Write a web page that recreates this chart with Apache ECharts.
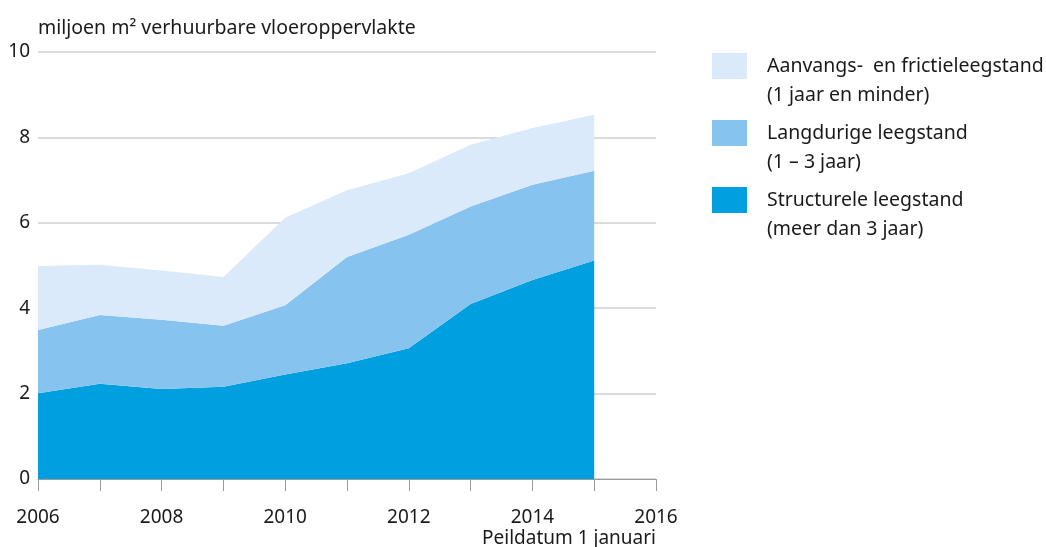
<!DOCTYPE html>
<html>
<head>
<meta charset="utf-8">
<script src="https://cdn.jsdelivr.net/npm/echarts@6/dist/echarts.min.js"></script>
<style>
  html, body { margin: 0; padding: 0; background: #fff; }
  #chart { width: 1046px; height: 547px; }
</style>
</head>
<body>
<div id="chart"></div>
<script>
// peildatum 1 januari (2016 alleen als eind van de as)
var years = ['2006', '2007', '2008', '2009', '2010', '2011', '2012', '2013', '2014', '2015', '2016'];
// miljoen m2, per laag (gestapeld)
var structureel = [2.01, 2.23, 2.11, 2.16, 2.45, 2.71, 3.06, 4.10, 4.66, 5.12];
var langdurig = [1.48, 1.61, 1.62, 1.43, 1.62, 2.49, 2.66, 2.28, 2.23, 2.10];
var aanvangs = [1.50, 1.18, 1.15, 1.14, 2.05, 1.56, 1.44, 1.45, 1.33, 1.31];

var seriesNames = ['Structurele leegstand', 'Langdurige leegstand', 'Aanvangs-  en frictieleegstand'];
var seriesSub = ['(meer dan 3 jaar)', '(1 – 3 jaar)', '(1 jaar en minder)'];
var seriesColors = ['#009fdf', '#86c4ef', '#dbeafa'];
var yTicks = [0, 2, 4, 6, 8, 10];

var font = 'Noto Sans';

var chart = echarts.init(document.getElementById('chart'));

var seriesData = [structureel, langdurig, aanvangs];
var series = [];
for (var i = 0; i < seriesData.length; i++) {
	series.push({
		name: seriesNames[i],
		type: 'line',
		stack: 'totaal',
		data: seriesData[i],
		symbol: 'none',
		lineStyle: { width: 0 },
		areaStyle: { color: seriesColors[i], opacity: 1 },
		itemStyle: { color: seriesColors[i] },
		z: 2
	});
}

// legenda: van boven naar beneden
var graphics = [];
var legendOrder = [2, 1, 0];
for (var k = 0; k < legendOrder.length; k++) {
	var idx = legendOrder[k];
	var itemTop = 53 + k * 67;
	graphics.push({
		type: 'rect',
		x: 712,
		y: itemTop,
		shape: { x: 0, y: 0, width: 35, height: 26 },
		style: { fill: seriesColors[idx] }
	});
	graphics.push({
		type: 'text',
		x: 767,
		y: itemTop - 1,
		style: {
			text: seriesNames[idx] + '\n' + seriesSub[idx],
			fontSize: 19.5,
			fontFamily: font,
			lineHeight: 29,
			fill: '#1a1a1a'
		}
	});
}
graphics.push({
	type: 'text',
	x: 656,
	y: 529,
	style: {
		text: 'Peildatum 1 januari',
		fontSize: 19,
		fontFamily: font,
		fill: '#1a1a1a',
		align: 'right'
	}
});

var option = {
	animation: false,
	backgroundColor: '#fff',
	grid: {
		left: 38,
		right: 390,
		top: 52,
		bottom: 68
	},
	xAxis: {
		type: 'category',
		data: years,
		boundaryGap: false,
		axisLine: { show: true, lineStyle: { color: '#9a9a9a', width: 1 } },
		axisTick: { show: true, length: 12, interval: 0, lineStyle: { color: '#9a9a9a' } },
		splitLine: { show: false },
		axisLabel: {
			margin: 29,
			interval: 1,
			color: '#1a1a1a',
			fontSize: 19,
			fontFamily: font
		}
	},
	yAxis: {
		type: 'value',
		min: yTicks[0],
		max: yTicks[yTicks.length - 1],
		interval: 2,
		name: 'miljoen m² verhuurbare vloeroppervlakte',
		nameLocation: 'end',
		nameGap: 14,
		nameTextStyle: {
			align: 'left',
			color: '#1a1a1a',
			fontSize: 19.5,
			fontFamily: font
		},
		axisLine: { show: false },
		axisTick: { show: false },
		splitLine: { show: true, lineStyle: { color: '#cfcfcf', width: 1.5 } },
		axisLabel: {
			margin: 8,
			color: '#1a1a1a',
			fontSize: 19,
			fontFamily: font
		}
	},
	series: series,
	graphic: graphics
};

chart.setOption(option);
</script>
</body>
</html>
